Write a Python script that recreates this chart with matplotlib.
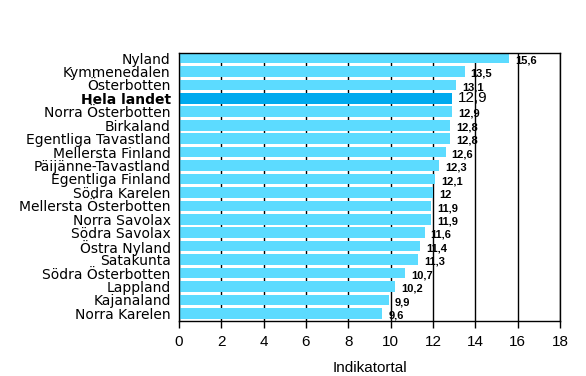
import matplotlib
matplotlib.use("Agg")
import matplotlib.pyplot as plt

categories = ["Nyland", "Kymmenedalen", "Österbotten", "Hela landet", "Norra Österbotten",
              "Birkaland", "Egentliga Tavastland", "Mellersta Finland", "Päijänne-Tavastland",
              "Egentliga Finland", "Södra Karelen", "Mellersta Österbotten", "Norra Savolax",
              "Södra Savolax", "Östra Nyland", "Satakunta", "Södra Österbotten", "Lappland",
              "Kajanaland", "Norra Karelen"]
values = [15.6, 13.5, 13.1, 12.9, 12.9, 12.8, 12.8, 12.6, 12.3, 12.1, 12.0, 11.9, 11.9,
          11.6, 11.4, 11.3, 10.7, 10.2, 9.9, 9.6]
highlight = "Hela landet"
xticks = [0, 2, 4, 6, 8, 10, 12, 14, 16, 18]
xlabel = "Indikatortal"

plt.rcParams['font.family'] = ['Liberation Sans', 'DejaVu Sans']

fig = plt.figure(figsize=(5.86, 3.76), dpi=100)
ax = fig.add_axes([179/586, 1-321/376, (560-179)/586, (321-52.7)/376])

pos = list(range(len(categories)))
colors = ['#00AAEE' if c == highlight else '#5CDBFF' for c in categories]
ax.barh(pos, values, height=0.79, color=colors, zorder=2)

for i, (c, v) in enumerate(zip(categories, values)):
    lab = f"{v:g}".replace('.', ',')
    if c == highlight:
        ax.annotate(lab, (v, i), xytext=(4.3, 0.5), textcoords='offset points',
                    va='center', ha='left', fontsize=11, zorder=4)
    else:
        ax.annotate(lab, (v, i), xytext=(4.3, -1.6), textcoords='offset points',
                    va='center', ha='left', fontsize=8, fontweight='bold', zorder=4)

ax.set_ylim(19.57, -0.395)
ax.set_xlim(0, 18)
ax.set_xticks(xticks)
ax.set_xticklabels([str(t) for t in xticks], fontsize=11)
ax.set_yticks(pos)
ax.set_yticklabels(categories, fontsize=10, family=['DejaVu Sans'])
for t in ax.get_yticklabels():
    if t.get_text() == highlight:
        t.set_fontweight('bold')
ax.tick_params(axis='y', length=0, pad=6)
ax.tick_params(axis='x', length=5, direction='out', width=1, color='black', pad=5)
ax.xaxis.grid(True, color='black', linewidth=1, zorder=1)
ax.set_axisbelow(True)
for s in ax.spines.values():
    s.set_color('black')
    s.set_linewidth(1)
ax.set_xlabel(xlabel, fontsize=11, labelpad=9)

fig.savefig("out.png", dpi=100)
